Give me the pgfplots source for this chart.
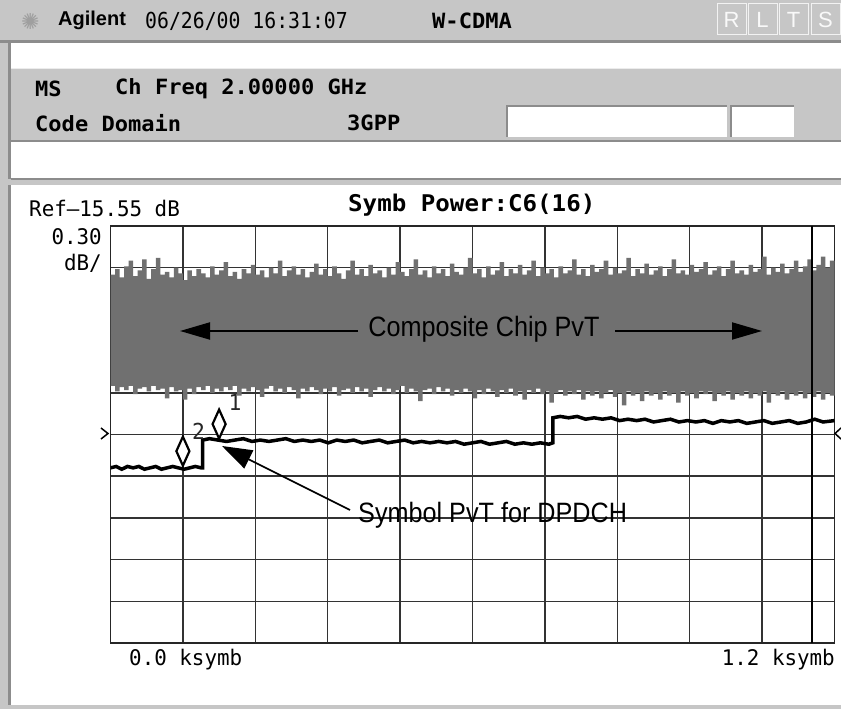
\documentclass[border=0pt]{standalone}
\usepackage{pgfplots}
\usepackage{pgfplotstable}
\pgfplotsset{compat=1.18}
\usetikzlibrary{arrows.meta}
\usepackage{fontspec}
\setmainfont{Liberation Sans}
\newfontfamily\symfont{DejaVu Sans}
\newfontfamily\annot[FakeStretch=0.9]{Liberation Sans}
\newfontfamily\scrdate[FakeStretch=0.9]{DejaVu Sans Mono}
\newfontfamily\scrhead[FakeStretch=1.05]{DejaVu Sans Mono}
\newfontfamily\scrref[FakeStretch=0.97]{DejaVu Sans Mono}
\newfontfamily\scrtitle[FakeStretch=1.05]{DejaVu Sans Mono}

\definecolor{panel}{RGB}{198,198,198}
\definecolor{edge}{RGB}{140,140,140}
\definecolor{chip}{RGB}{112,112,112}

% composite chip PvT envelope (dB): upper edge left to right, lower edge right to left
\pgfplotstableread{
x y
0 -15.90
8 -15.86
16 -15.92
24 -15.84
32 -15.80
40 -15.91
48 -15.87
56 -15.79
64 -15.93
72 -15.86
80 -15.78
88 -15.90
96 -15.88
104 -15.92
112 -15.85
120 -15.89
128 -15.94
136 -15.87
144 -15.91
152 -15.86
160 -15.89
168 -15.92
176 -15.84
184 -15.90
192 -15.87
200 -15.81
208 -15.91
216 -15.88
224 -15.93
232 -15.86
240 -15.89
248 -15.83
256 -15.90
264 -15.87
272 -15.92
280 -15.85
288 -15.89
296 -15.80
304 -15.91
312 -15.87
320 -15.84
328 -15.90
336 -15.86
344 -15.92
352 -15.88
360 -15.82
368 -15.90
376 -15.86
384 -15.91
392 -15.84
400 -15.89
408 -15.93
416 -15.87
424 -15.80
432 -15.90
440 -15.86
448 -15.91
456 -15.83
464 -15.89
472 -15.87
480 -15.92
488 -15.85
496 -15.90
504 -15.81
512 -15.88
520 -15.91
528 -15.86
536 -15.79
544 -15.90
552 -15.87
560 -15.92
568 -15.84
576 -15.89
584 -15.86
592 -15.91
600 -15.82
608 -15.88
616 -15.90
624 -15.85
632 -15.78
640 -15.89
648 -15.86
656 -15.92
664 -15.84
672 -15.90
680 -15.87
688 -15.81
696 -15.91
704 -15.86
712 -15.89
720 -15.83
728 -15.90
736 -15.87
744 -15.80
752 -15.91
760 -15.85
768 -15.89
776 -15.86
784 -15.92
792 -15.84
800 -15.89
808 -15.87
816 -15.79
824 -15.90
832 -15.86
840 -15.91
848 -15.83
856 -15.88
864 -15.86
872 -15.80
880 -15.90
888 -15.85
896 -15.89
904 -15.87
912 -15.78
920 -15.91
928 -15.86
936 -15.89
944 -15.82
952 -15.90
960 -15.87
968 -15.84
976 -15.91
984 -15.86
992 -15.79
1000 -15.89
1008 -15.87
1016 -15.90
1024 -15.83
1032 -15.88
1040 -15.86
1048 -15.81
1056 -15.90
1064 -15.87
1072 -15.84
1080 -15.91
1088 -15.86
1096 -15.80
1104 -15.89
1112 -15.87
1120 -15.90
1128 -15.83
1136 -15.88
1144 -15.86
1152 -15.77
1160 -15.90
1168 -15.85
1176 -15.88
1184 -15.82
1192 -15.89
1200 -15.86
1208 -15.80
1216 -15.88
1224 -15.84
1232 -15.79
1240 -15.87
1248 -15.83
1256 -15.77
1264 -15.85
1272 -15.80
1280 -15.86
1280 -16.77
1272 -16.75
1264 -16.80
1256 -16.74
1248 -16.78
1240 -16.75
1232 -16.79
1224 -16.74
1216 -16.77
1208 -16.75
1200 -16.80
1192 -16.74
1184 -16.77
1176 -16.75
1168 -16.82
1160 -16.74
1152 -16.77
1144 -16.75
1136 -16.79
1128 -16.74
1120 -16.77
1112 -16.75
1104 -16.80
1096 -16.74
1088 -16.77
1080 -16.75
1072 -16.81
1064 -16.74
1056 -16.76
1048 -16.74
1040 -16.79
1032 -16.75
1024 -16.77
1016 -16.74
1008 -16.82
1000 -16.75
992 -16.77
984 -16.74
976 -16.80
968 -16.75
960 -16.77
952 -16.74
944 -16.81
936 -16.75
928 -16.77
920 -16.74
912 -16.84
904 -16.75
896 -16.78
888 -16.73
880 -16.75
872 -16.79
864 -16.74
856 -16.77
848 -16.74
840 -16.80
832 -16.73
824 -16.76
816 -16.74
808 -16.77
800 -16.73
792 -16.75
784 -16.82
776 -16.74
768 -16.76
760 -16.72
752 -16.75
744 -16.73
736 -16.80
728 -16.74
720 -16.77
712 -16.72
704 -16.75
696 -16.73
688 -16.78
680 -16.74
672 -16.72
664 -16.76
656 -16.73
648 -16.79
640 -16.74
632 -16.72
624 -16.75
616 -16.73
608 -16.77
600 -16.72
592 -16.74
584 -16.71
576 -16.76
568 -16.72
560 -16.73
552 -16.81
544 -16.74
536 -16.72
528 -16.75
520 -16.70
512 -16.73
504 -16.76
496 -16.72
488 -16.74
480 -16.71
472 -16.73
464 -16.78
456 -16.72
448 -16.74
440 -16.71
432 -16.75
424 -16.72
416 -16.73
408 -16.77
400 -16.71
392 -16.74
384 -16.72
376 -16.76
368 -16.73
360 -16.71
352 -16.74
344 -16.72
336 -16.79
328 -16.73
320 -16.71
312 -16.75
304 -16.72
296 -16.74
288 -16.70
280 -16.72
272 -16.78
264 -16.73
256 -16.71
248 -16.74
240 -16.72
232 -16.77
224 -16.70
216 -16.73
208 -16.71
200 -16.74
192 -16.72
184 -16.75
176 -16.70
168 -16.73
160 -16.71
152 -16.76
144 -16.72
136 -16.80
128 -16.73
120 -16.74
112 -16.71
104 -16.79
96 -16.72
88 -16.73
80 -16.70
72 -16.74
64 -16.71
56 -16.72
48 -16.76
40 -16.70
32 -16.73
24 -16.71
16 -16.74
8 -16.70
0 -16.72
}\chiptable

% symbol power trace for DPDCH (dB)
\pgfplotstableread{
x y
0 -17.29
10 -17.28
20 -17.30
30 -17.28
40 -17.29
50 -17.28
60 -17.30
70 -17.29
80 -17.28
90 -17.30
100 -17.29
110 -17.28
120 -17.29
130 -17.30
140 -17.29
150 -17.28
160 -17.29
163 -17.29
163 -17.09
175 -17.08
190 -17.09
205 -17.10
220 -17.09
235 -17.08
250 -17.10
265 -17.09
280 -17.10
295 -17.09
310 -17.08
325 -17.10
340 -17.09
355 -17.10
370 -17.09
385 -17.11
400 -17.09
415 -17.10
430 -17.09
445 -17.11
460 -17.10
475 -17.09
490 -17.11
505 -17.10
520 -17.09
535 -17.11
550 -17.10
565 -17.11
580 -17.10
595 -17.11
610 -17.10
625 -17.12
640 -17.11
655 -17.10
670 -17.12
685 -17.11
700 -17.10
715 -17.12
730 -17.11
745 -17.12
760 -17.11
775 -17.12
782 -17.11
782 -16.93
795 -16.92
810 -16.93
825 -16.92
840 -16.94
855 -16.93
870 -16.94
885 -16.93
900 -16.95
915 -16.94
930 -16.95
945 -16.94
960 -16.96
975 -16.95
990 -16.94
1005 -16.96
1020 -16.95
1035 -16.96
1050 -16.95
1065 -16.97
1080 -16.95
1095 -16.96
1110 -16.95
1125 -16.97
1140 -16.96
1155 -16.95
1170 -16.97
1185 -16.96
1200 -16.95
1215 -16.97
1230 -16.96
1245 -16.94
1260 -16.96
1280 -16.95
}\symtable

\begin{document}
\begin{tikzpicture}
\path[use as bounding box] (0,0) rectangle (841pt,709pt);

% instrument screen frame (pixel coordinates, y downwards)
\begin{scope}[x=1pt,y=-1pt,shift={(0pt,709pt)}]
  \fill[white] (0,0) rectangle (841,709);
  \fill[panel] (0,0) rectangle (841,40);
  \fill[edge] (0,40) rectangle (841,43);
  \fill[panel] (0,43) rectangle (11,709);
  \fill[edge] (8,43) rectangle (11,705);
  \fill[panel] (11,68) rectangle (841,141);
  \draw[white!85!gray, line width=1.5pt] (11,68.5) -- (841,68.5);
  \draw[edge, line width=1.5pt] (11,141) -- (841,141);
  \fill[panel] (0,179) rectangle (841,185);
  \draw[edge, line width=1.5pt] (11,179) -- (841,179);
  \fill[panel] (0,705) rectangle (841,709);

  % top bar
  \node[anchor=west, inner sep=0, gray!75] at (21,21) {\symfont\fontsize{22}{22}\selectfont ✺};
  \node[anchor=west, inner sep=0] at (58,20) {\bfseries\fontsize{20}{20}\selectfont Agilent};
  \node[anchor=west, inner sep=0] at (145,21) {\scrdate\fontsize{22}{22}\selectfont 06/26/00 16:31:07};
  \node[anchor=west, inner sep=0] at (432,21) {\scrhead\bfseries\fontsize{21}{21}\selectfont W-CDMA};
  \foreach \l/\xa in {R/716,L/747,T/778,S/810} {
    \draw[white!90!gray, line width=1pt] (\xa+1,4) rectangle ++(29,31);
    \node[white!95!gray] at (\xa+15.5,20) {\fontsize{22}{22}\selectfont\l};
  }

  % measurement panel
  \node[anchor=west, inner sep=0] at (35,89) {\scrhead\bfseries\fontsize{21}{21}\selectfont MS};
  \node[anchor=west, inner sep=0] at (115,89) {\scrhead\bfseries\fontsize{21}{21}\selectfont Ch Freq 2.00000 GHz};
  \node[anchor=west, inner sep=0] at (35,123) {\scrhead\bfseries\fontsize{21}{21}\selectfont Code Domain};
  \node[anchor=west, inner sep=0] at (347,123) {\scrhead\bfseries\fontsize{21}{21}\selectfont 3GPP};
  \fill[white] (507,106) rectangle (727,137);
  \draw[edge, line width=1.2pt] (507,137) -- (507,106) -- (727,106);
  \fill[white] (731,106) rectangle (794,137);
  \draw[edge, line width=1.2pt] (731,137) -- (731,106) -- (794,106);

  % plot texts
  \node[anchor=west, inner sep=0] at (29,208.5) {\scrref\fontsize{21.5}{21.5}\selectfont Ref\textendash15.55 dB};
  \node[anchor=west, inner sep=0] at (348,205) {\scrtitle\bfseries\fontsize{23}{23}\selectfont Symb Power:C6(16)};
  \node[anchor=east, inner sep=0] at (102,237) {\scrref\fontsize{21.5}{21.5}\selectfont 0.30};
  \node[anchor=east, inner sep=0] at (102,263) {\scrref\fontsize{21.5}{21.5}\selectfont dB/};
  \node[anchor=west, inner sep=0] at (129,660) {\scrref\fontsize{21.5}{21.5}\selectfont 0.0 ksymb};
  \node[anchor=east, inner sep=0] at (835,660) {\scrref\fontsize{21.5}{21.5}\selectfont 1.2 ksymb};
\end{scope}

\begin{axis}[
  at={(110.5pt,66pt)}, anchor=south west,
  width=724pt, height=417pt, scale only axis,
  xmin=0, xmax=1280, ymin=-18.55, ymax=-15.55,
  xtick={128,256,384,512,640,768,896,1024,1152},
  ytick={-18.25,-17.95,-17.65,-17.35,-17.05,-16.75,-16.45,-16.15,-15.85},
  xticklabels={}, yticklabels={},
  major tick length=0pt,
  grid=major,
  grid style={black!80, line width=1.5pt},
  axis line style={black!85, line width=1.8pt},
]
\addplot[fill=chip, draw=none, const plot] table[x=x,y=y]{\chiptable};
\addplot[black, line width=3.5pt] table[x=x,y=y]{\symtable};
\addplot[black, line width=1.8pt] coordinates {(1240,-18.55) (1240,-15.55)};
\addplot[only marks, mark=diamond*, mark size=14.5pt,
  mark options={xscale=0.6, fill=white, draw=black, line width=2.2pt}]
  coordinates {(128,-17.17) (192,-16.975)};
\end{axis}

% annotations
\begin{scope}[x=1pt,y=-1pt,shift={(0pt,709pt)}]
  \draw[black, line width=1.5pt] (101,428) -- (108,433.5) -- (101,439);
  \draw[black, line width=1.5pt] (841,428) -- (835,433.5) -- (841,439);
  \node[gray!30!black] at (198.5,431) {\scrref\fontsize{22}{22}\selectfont 2};
  \node[gray!30!black] at (235,402) {\scrref\fontsize{22}{22}\selectfont 1};
  \node[anchor=base, inner sep=0] at (484,337) {\annot\fontsize{28}{28}\selectfont Composite Chip PvT};
  \draw[line width=2pt, -{Triangle[length=30pt,width=17pt]}] (358,331) -- (180,331);
  \draw[line width=2pt, -{Triangle[length=30pt,width=17pt]}] (615,331) -- (762,331);
  \node[anchor=base west, inner sep=0] at (358,523) {\annot\fontsize{28}{28}\selectfont Symbol PvT for DPDCH};
  \draw[line width=1.6pt, -{Triangle[length=30pt,width=20pt]}] (350,510) -- (222,446);
\end{scope}
\end{tikzpicture}
\end{document}
